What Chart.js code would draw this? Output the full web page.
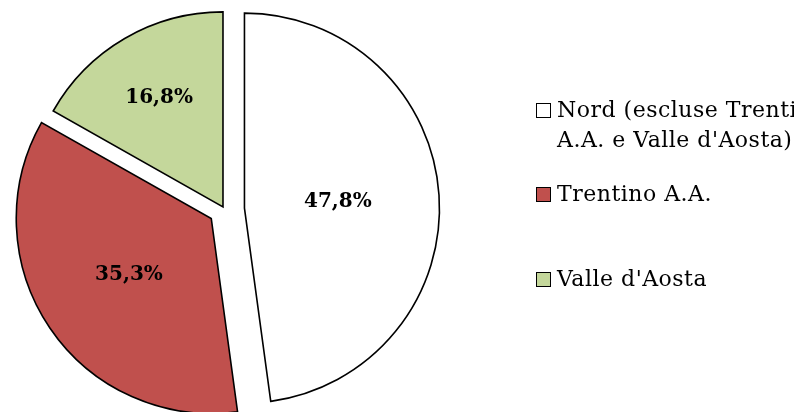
<!DOCTYPE html>
<html lang="it">
<head>
<meta charset="utf-8">
<title>Ripartizione percentuale</title>
<script src="https://cdn.jsdelivr.net/npm/chart.js@4.4.0/dist/chart.umd.min.js"></script>
<style>
  html, body { margin: 0; padding: 0; background: #fff; overflow: hidden; }
  #wrap { position: relative; width: 794px; height: 412px; }
</style>
</head>
<body>
<div id="wrap"><canvas id="torta" width="794" height="412"></canvas></div>
<script>
const categorie = ["Nord (escluse Trentino A.A. e Valle d'Aosta)", 'Trentino A.A.', "Valle d'Aosta"];
const righeLegenda = [['Nord (escluse Trentino', "A.A. e Valle d'Aosta)"], ['Trentino A.A.'], ["Valle d'Aosta"]];
const valori = [47.8, 35.3, 16.8];
const colori = ['#FFFFFF', '#C0504D', '#C4D79B'];

// distacco delle fette (px) e distanza delle etichette dal vertice (frazione del raggio)
const esplosione = [20, 16, 3];
const posEtichetta = [0.48, 0.51, 0.65];

const FONT = '"DejaVu Serif", "Liberation Serif", serif';

const staccaFette = {
    id: 'staccaFette',
    afterUpdate(chart) {
        chart.getDatasetMeta(0).data.forEach((arc, i) => {
            const mid = (arc.startAngle + arc.endAngle) / 2;
            arc.x += Math.cos(mid) * esplosione[i];
            arc.y += Math.sin(mid) * esplosione[i];
        });
    }
};

const etichette = {
    id: 'etichette',
    afterDatasetsDraw(chart) {
        const ctx = chart.ctx;
        ctx.save();
        ctx.font = 'bold 20px ' + FONT;
        ctx.fillStyle = '#000';
        ctx.textAlign = 'center';
        ctx.textBaseline = 'middle';
        chart.getDatasetMeta(0).data.forEach((arc, i) => {
            const mid = (arc.startAngle + arc.endAngle) / 2;
            const r = arc.outerRadius * posEtichetta[i];
            const testo = valori[i].toFixed(1).replace('.', ',') + '%';
            ctx.fillText(testo, arc.x + Math.cos(mid) * r, arc.y + Math.sin(mid) * r);
        });
        ctx.restore();
    }
};

const legenda = {
    id: 'legenda',
    afterDraw(chart) {
        const ctx = chart.ctx;
        const baseY = [117, 201, 286];
        ctx.save();
        ctx.font = '22px ' + FONT;
        ctx.letterSpacing = '0.5px';
        ctx.textBaseline = 'alphabetic';
        righeLegenda.forEach((righe, i) => {
            const y = baseY[i];
            ctx.fillStyle = colori[i];
            ctx.fillRect(536, y - 14, 14, 14);
            ctx.strokeStyle = '#000';
            ctx.lineWidth = 1;
            ctx.strokeRect(536.5, y - 13.5, 14, 14);
            ctx.fillStyle = '#000';
            righe.forEach((riga, k) => ctx.fillText(riga, 557, y + k * 30));
        });
        ctx.restore();
    }
};

new Chart(document.getElementById('torta'), {
    type: 'pie',
    data: {
        labels: categorie,
        datasets: [{
            data: valori,
            backgroundColor: colori,
            borderColor: '#000',
            borderWidth: 1.6,
            borderJoinStyle: 'miter'
        }]
    },
    options: {
        responsive: false,
        animation: false,
        events: [],
        radius: 195,
        layout: { padding: { left: 0, right: 345, top: 7, bottom: 0 } },
        plugins: {
            legend: { display: false },
            tooltip: { enabled: false }
        }
    },
    plugins: [staccaFette, etichette, legenda]
});
</script>
</body>
</html>
